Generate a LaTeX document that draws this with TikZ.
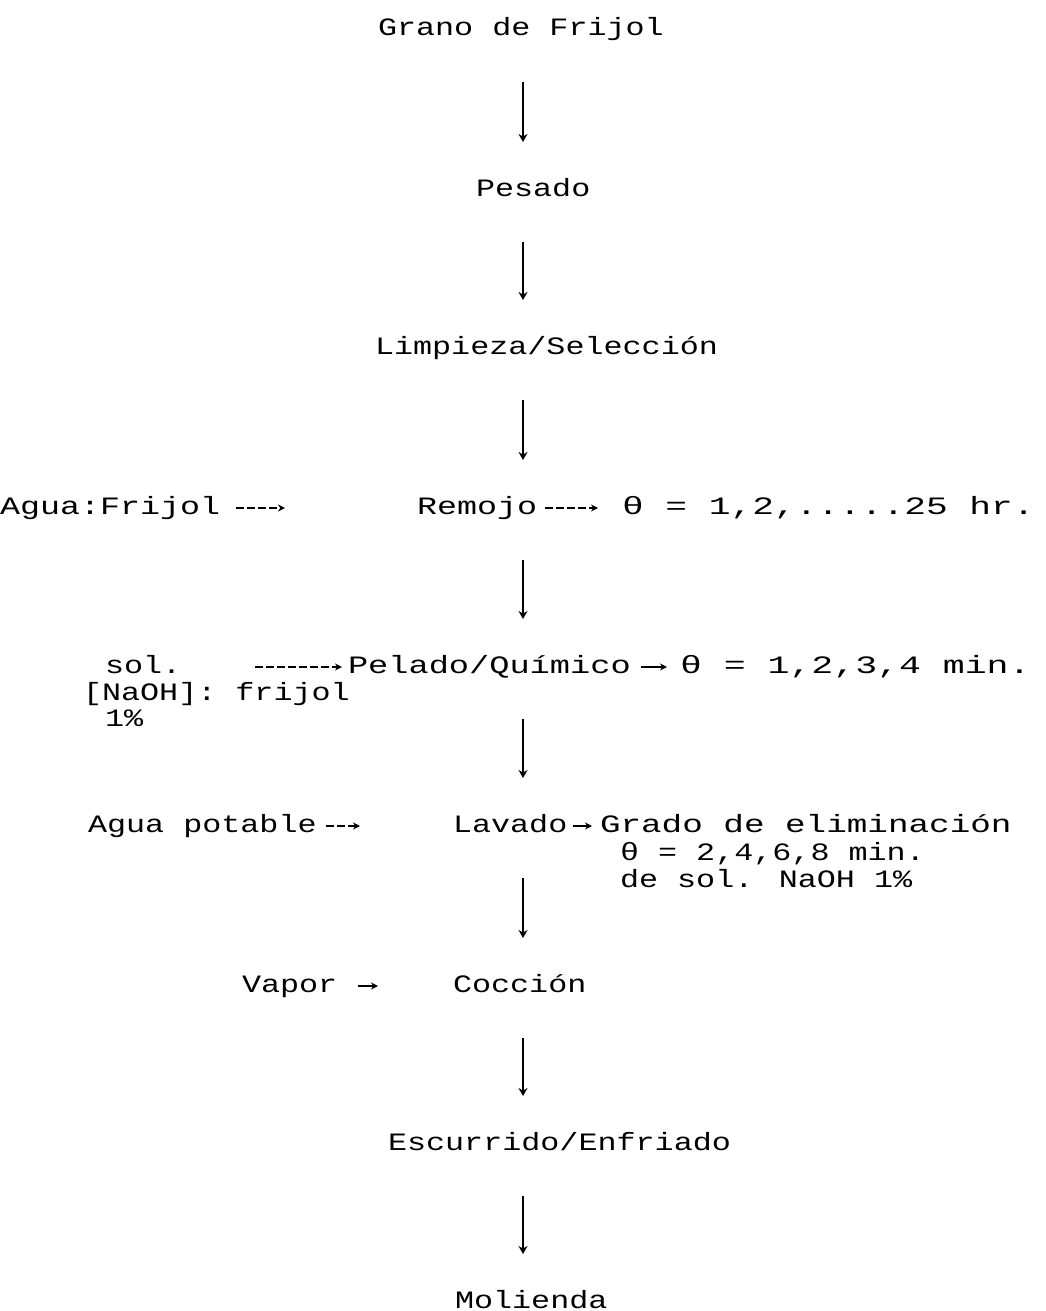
\documentclass[tikz,border=0pt]{standalone}
\usepackage{fontspec}
\usepackage{graphicx}
\usetikzlibrary{arrows.meta}
\newfontfamily\dmfont[FakeStretch=1.27]{Liberation Mono}
\begin{document}
\begin{tikzpicture}[x=1pt,y=-1pt,
  txt/.style={anchor=base west,inner sep=0pt,outer sep=0pt,
    text height=18pt,text depth=6pt,
    font=\dmfont\fontsize{25}{30}\selectfont},
  varrow/.style={line width=2.2pt,-{Stealth[length=8pt,width=9pt]},
    shorten <=40pt,shorten >=36pt},
  harrow/.style={line width=1.6pt,dash pattern=on 8pt off 3pt,
    -{Stealth[length=7pt,width=7pt]}},
  sarrow/.style={line width=1.6pt,-{Stealth[length=7pt,width=7pt]}}]
\useasboundingbox (0,0) rectangle (1046,1311);
\coordinate (ax) at (523,0);
% main column
\node[txt] (grano) at (378,36) {Grano de Frijol};
\node[txt] (pesado) at (476,196) {Pesado};
\node[txt] (limpieza) at (375,354) {Limpieza/Selección};
\node[txt] (remojo) at (417,514) {\scalebox{1.05}[1]{Remojo}};
\node[txt] (pelado) at (348,673) {\scalebox{1.06}[1]{Pelado/Químico}};
\node[txt] (lavado) at (453,832) {Lavado};
\node[txt] (coccion) at (453,992) {Cocción};
\node[txt] (escurrido) at (388,1150) {Escurrido/Enfriado};
\node[txt] (molienda) at (455,1308) {Molienda};
% side texts
\node[txt] (agua) at (0,514) {\scalebox{1.05}[1]{Agua:Frijol}};
\node[txt] (t1) at (622,514) {\scalebox{1.14}[1]{θ = 1,2,.....25 hr.}};
\node[txt] (sol) at (105,673) {sol.};
\node[txt] (naoh) at (83,700) {[NaOH]: frijol};
\node[txt] (pct) at (105,726) {1\%};
\node[txt] (t2) at (680,673) {\scalebox{1.15}[1]{θ = 1,2,3,4 min.}};
\node[txt] (potable) at (88,832) {Agua potable};
\node[txt] (grado) at (600,832) {\scalebox{1.08}[1]{Grado de eliminación}};
\node[txt] (t3) at (620,860) {θ = 2,4,6,8 min.};
\node[txt] (desol) at (620,887) {de sol. NaOH 1\%};
\node[txt] (vapor) at (242,992) {Vapor};
% vertical connectors
\draw[varrow] (grano.south -| ax) -- (pesado.north -| ax);
\draw[varrow] (pesado.south -| ax) -- (limpieza.north -| ax);
\draw[varrow] (limpieza.south -| ax) -- (remojo.north -| ax);
\draw[varrow] (remojo.south -| ax) -- (pelado.north -| ax);
\draw[varrow] (pelado.south -| ax) -- (lavado.north -| ax);
\draw[varrow] (lavado.south -| ax) -- (coccion.north -| ax);
\draw[varrow] (coccion.south -| ax) -- (escurrido.north -| ax);
\draw[varrow] (escurrido.south -| ax) -- (molienda.north -| ax);
% horizontal connectors
\draw[harrow,shorten <=16pt,shorten >=132pt] (agua.east) -- (remojo.west);
\draw[harrow,shorten <=8pt,shorten >=24pt] (remojo.east) -- (t1.west);
\draw[harrow,shorten <=74pt,shorten >=6pt] (sol.east) -- (pelado.west);
\draw[sarrow,shorten <=10pt,shorten >=13pt] (pelado.east) -- (t2.west);
\draw[harrow,shorten <=9pt,shorten >=93pt] (potable.east) -- (lavado.west);
\draw[sarrow,shorten <=6pt,shorten >=8pt] (lavado.east) -- (grado.west);
\draw[sarrow,shorten <=21pt,shorten >=75pt] (vapor.east) -- (coccion.west);
\end{tikzpicture}
\end{document}
